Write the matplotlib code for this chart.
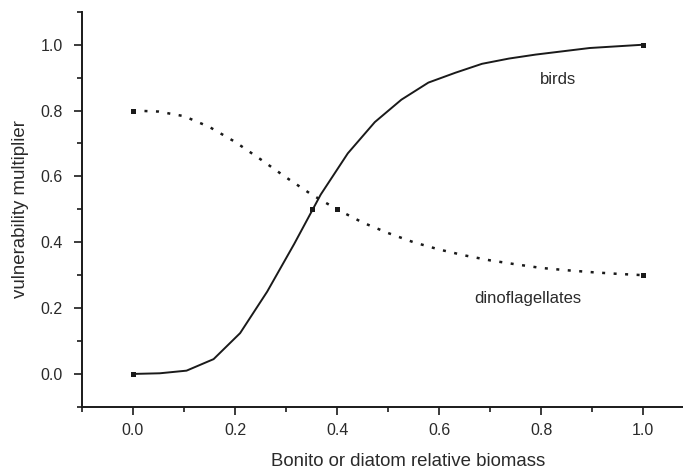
import numpy as np
import matplotlib
matplotlib.use("Agg")
import matplotlib.pyplot as plt
from matplotlib.ticker import MultipleLocator

plt.rcParams['font.family'] = ['Liberation Sans', 'DejaVu Sans']

# birds (solid curve)
birds_x = [0.0, 0.0526, 0.105, 0.158, 0.21, 0.263, 0.316, 0.368, 0.421, 0.474,
           0.526, 0.579, 0.632, 0.684, 0.737, 0.789, 0.842, 0.895, 0.947, 1.0]
birds_y = [0.0, 0.002, 0.01, 0.045, 0.124, 0.25, 0.395, 0.545, 0.67, 0.765,
           0.833, 0.885, 0.915, 0.942, 0.958, 0.97, 0.98, 0.99, 0.995, 1.0]
birds_pts_x = [0.0, 0.35, 1.0]
birds_pts_y = [0.0, 0.5, 1.0]

# dinoflagellates (dotted curve)
dino_x = [0.0, 0.05, 0.1, 0.15, 0.2, 0.25, 0.3, 0.35, 0.4, 0.45, 0.5,
          0.55, 0.6, 0.65, 0.7, 0.75, 0.8, 0.85, 0.9, 0.95, 1.0]
dino_y = [0.8, 0.797, 0.783, 0.75, 0.705, 0.652, 0.597, 0.545, 0.5, 0.46, 0.428,
          0.4, 0.378, 0.36, 0.345, 0.333, 0.322, 0.315, 0.309, 0.304, 0.3]
dino_pts_x = [0.0, 0.4, 1.0]
dino_pts_y = [0.8, 0.5, 0.3]

ink = '#1a1a1a'
txt = '#2a2a2a'
fs = 12

fig = plt.figure(figsize=(6.83, 4.72), dpi=100)
ax = fig.add_axes([0.120, 0.138, 0.880, 0.837])

ax.plot(birds_x, birds_y, color=ink, lw=1.4)
ax.plot(birds_pts_x, birds_pts_y, 's', color=ink, ms=3.6, mew=0)
ax.plot(dino_x, dino_y, color=ink, lw=1.8, dashes=(1.2, 3.4))
ax.plot(dino_pts_x, dino_pts_y, 's', color=ink, ms=3.6, mew=0)

ax.text(0.833, 0.894, 'birds', ha='center', va='center', fontsize=fs, color=txt)
ax.text(0.773, 0.23, 'dinoflagellates', ha='center', va='center', fontsize=fs, color=txt)

ax.set_xlim(-0.1, 1.078)
ax.set_ylim(-0.1, 1.1)
ax.xaxis.set_minor_locator(MultipleLocator(0.1))
ax.yaxis.set_minor_locator(MultipleLocator(0.1))
ax.set_xticks([0.0, 0.2, 0.4, 0.6, 0.8, 1.0])
ax.set_yticks([0.0, 0.2, 0.4, 0.6, 0.8, 1.0])
ax.xaxis.set_major_formatter(plt.FormatStrFormatter('%.1f'))
ax.yaxis.set_major_formatter(plt.FormatStrFormatter('%.1f'))

for s in ['top', 'right']:
    ax.spines[s].set_visible(False)
for s in ['left', 'bottom']:
    ax.spines[s].set_linewidth(1.4)
    ax.spines[s].set_color(ink)

ax.tick_params(which='major', direction='out', length=5.8, width=1.2, color=ink,
               labelsize=11.5, labelcolor=txt, pad=6)
ax.tick_params(axis='y', which='major', pad=8)
ax.tick_params(which='minor', direction='out', length=3.3, width=1.2, color=ink)

ax.set_xlabel('Bonito or diatom relative biomass', fontsize=13.4, color=txt)
ax.set_ylabel('vulnerability multiplier', fontsize=13.4, color=txt)
ax.xaxis.label.set_va('center')
ax.yaxis.label.set_va('center')
ax.xaxis.set_label_coords(0.542, -0.139)
ax.yaxis.set_label_coords(-0.1015, 0.5)

fig.savefig('out.png', dpi=100)
